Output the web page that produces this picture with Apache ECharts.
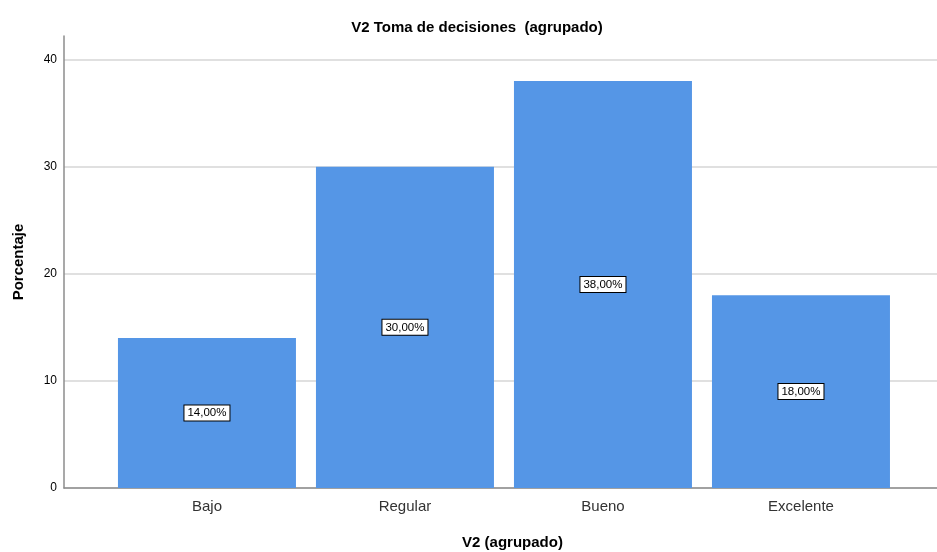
<!DOCTYPE html>
<html>
<head>
<meta charset="utf-8">
<script src="https://cdn.jsdelivr.net/npm/echarts@6/dist/echarts.min.js"></script>
<style>
  html, body { margin: 0; padding: 0; background: #fff; }
  #chart { width: 937px; height: 552px; }
</style>
</head>
<body>
<div id="chart"></div>
<script>
// datos del grafico
var categories = ['Bajo', 'Regular', 'Bueno', 'Excelente'];
var percentages = [14, 30, 38, 18];
var yTicks = [0, 10, 20, 30, 40];

var chart = echarts.init(document.getElementById('chart'));

var barData = percentages.map(function (v, i) { return [i, v]; });

chart.setOption({
    animation: false,
    title: {
        text: 'V2 Toma de decisiones  (agrupado)',
        left: 472, top: 15, textAlign: 'center',
        textStyle: { fontFamily: 'Liberation Sans', fontSize: 15, fontWeight: 'bold', color: '#000' }
    },
    grid: { left: 64, right: 0, top: 36, bottom: 64, outerBoundsMode: 'none', containLabel: false },
    xAxis: {
        type: 'value',
        min: -0.722, max: 3.687,
        name: 'V2 (agrupado)',
        nameLocation: 'middle',
        nameGap: 47,
        nameTextStyle: { fontFamily: 'Liberation Sans', fontSize: 15, fontWeight: 'bold', color: '#000', padding: [0, 0, 0, 24] },
        axisLine: { show: true, lineStyle: { color: '#8c8c8c', width: 1.5 } },
        axisTick: { show: false },
        splitLine: { show: false },
        axisLabel: {
            fontFamily: 'Liberation Sans', fontSize: 15, color: '#333', margin: 11,
            customValues: categories.map(function (c, i) { return i; }),
            formatter: function (v) { return categories[Math.round(v)] || ''; }
        }
    },
    yAxis: {
        type: 'value',
        min: 0, max: 42.2,
        interval: 10,
        name: 'Porcentaje',
        nameLocation: 'middle',
        nameGap: 38,
        nameTextStyle: { fontFamily: 'Liberation Sans', fontSize: 15, fontWeight: 'bold', color: '#000' },
        axisLine: { show: true, onZero: false, lineStyle: { color: '#8c8c8c', width: 1.5 } },
        axisTick: { show: false },
        splitLine: { showMaxLine: false, lineStyle: { color: '#d6d6d6', width: 1.5 } },
        axisLabel: {
            fontFamily: 'Liberation Sans', fontSize: 12, color: '#000', margin: 7,
            customValues: yTicks
        }
    },
    series: [{
        type: 'bar',
        data: barData,
        barWidth: 178,
        itemStyle: { color: '#5596e6' },
        label: {
            show: true,
            position: 'inside',
            formatter: function (p) { return p.value[1].toFixed(2).replace('.', ',') + '%'; },
            fontFamily: 'Liberation Sans', fontSize: 11.5, color: '#000',
            backgroundColor: '#fff', borderColor: '#000', borderWidth: 1,
            padding: [2, 3, 1, 3]
        }
    }]
});
</script>
</body>
</html>
